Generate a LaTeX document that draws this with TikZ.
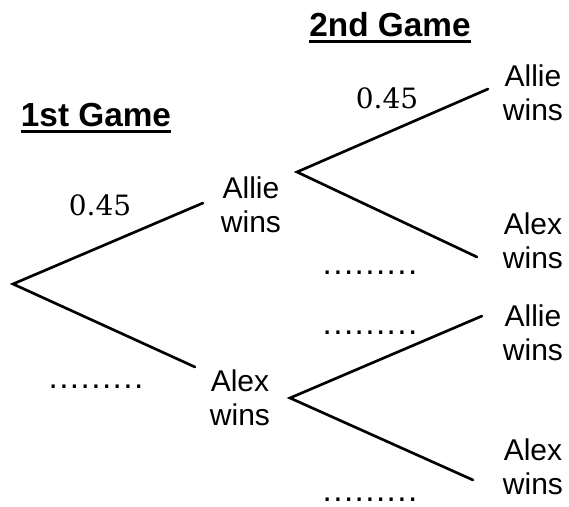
\documentclass[tikz,border=0pt]{standalone}
\usepackage{fontspec}
\newfontfamily\labelfont{Liberation Sans}
\newfontfamily\probfont{DejaVu Serif}
\newcommand\ulbox[1]{\setbox0\hbox{#1}\rlap{\rule[-4.9pt]{\wd0}{2.25pt}}\box0}
\newcommand\dotrow{\makebox[71pt]{.\hfill.\hfill.\hfill.\hfill.\hfill.\hfill.\hfill.\hfill.}}
\tikzset{
  branch/.style={line width=2pt, line cap=round},
  outcome/.style={font=\labelfont\fontsize{22.5}{25.5}\selectfont, align=center, inner sep=0pt},
  title/.style={font=\labelfont\bfseries\fontsize{25}{30}\selectfont, inner sep=0pt, anchor=base},
  prob/.style={font=\probfont\fontsize{21}{25}\selectfont, inner sep=0pt},
  dots/.style={font=\labelfont\fontsize{25}{28}\selectfont, inner sep=0pt}
}
\begin{document}
\begin{tikzpicture}[x=0.75pt, y=-0.75pt]
\useasboundingbox (0,0) rectangle (569,507);
% titles
\node[title] (t1) at (96,126) {\ulbox{1st Game}};
\node[title] (t2) at (390,36) {\ulbox{2nd Game}};
% branch points
\coordinate (r) at (13,284);
\coordinate (a1) at (203,203);
\coordinate (b1) at (195,367);
\coordinate (va) at (297,172);
\coordinate (vb) at (290,398);
\coordinate (aa) at (488,89);
\coordinate (ab) at (477,257);
\coordinate (ba) at (482,316);
\coordinate (bb) at (473,480);
% outcome labels
\node[outcome] (allie1) at (251,205) {Allie\\wins};
\node[outcome] (alex1) at (240,398) {Alex\\wins};
\node[outcome] (allie2a) at (533,93) {Allie\\wins};
\node[outcome] (alex2a) at (533,241) {Alex\\wins};
\node[outcome] (allie2b) at (533,333) {Allie\\wins};
\node[outcome] (alex2b) at (533,467) {Alex\\wins};
% probabilities
\node[prob] (p1) at (100,205) {0.45};
\node[prob] (p2) at (387,98) {0.45};
% dotted blanks
\node[dots] (d1) at (96,387) {\dotrow};
\node[dots] (d2) at (370,273) {\dotrow};
\node[dots] (d3) at (370,333) {\dotrow};
\node[dots] (d4) at (370,500) {\dotrow};
% branches
\draw[branch] (a1) -- (r) -- (b1);
\draw[branch] (aa) -- (va) -- (ab);
\draw[branch] (ba) -- (vb) -- (bb);
\end{tikzpicture}
\end{document}
